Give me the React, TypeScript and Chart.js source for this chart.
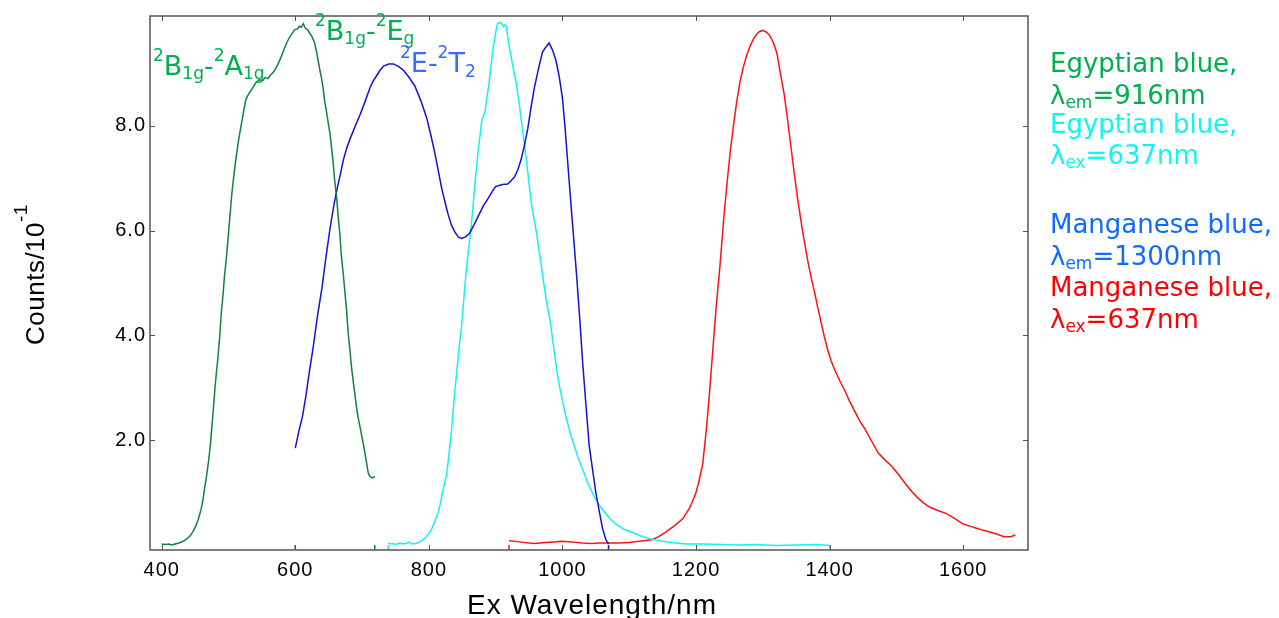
import React, { useEffect, useRef } from 'react';
import { Chart, registerables } from 'chart.js';

Chart.register(...registerables);

// ---------- axes ----------
const xMin = 382.5;
const xMax = 1697;
const yMin = -0.095;
const yMax = 10.095;
const xTickValues = [400, 600, 800, 1000, 1200, 1400, 1600];
const yTickValues = [2, 4, 6, 8];
const xAxisTitle = 'Ex Wavelength/nm';
const yAxisTitle = 'Counts/10';
const yAxisTitleSup = '-1';

// ---------- Egyptian blue, excitation (λem = 916 nm) : dark green ----------
const egyptianExX = [400, 405, 411, 415, 420, 426, 432, 438, 443, 447, 451, 455, 459, 462, 464, 467, 470, 473, 475, 478, 480, 482, 484, 487, 489, 492, 494, 497, 499, 502, 505, 508, 511, 515, 519, 523, 526, 529, 532, 536, 541, 546, 551, 555, 559, 563, 567, 571, 575, 579, 583, 587, 591, 595, 599, 603, 606, 609, 612, 615, 618, 621, 625, 629, 632, 634, 637, 639, 642, 644, 647, 649, 652, 654, 657, 659, 662, 664, 667, 669, 672, 674, 677, 679, 682, 684, 687, 689, 692, 694, 697, 700, 702, 704, 707, 709, 711, 713, 716, 719];
const egyptianExY = [0.02, 0.01, 0.02, 0.0, 0.02, 0.04, 0.07, 0.12, 0.18, 0.26, 0.36, 0.5, 0.68, 0.88, 1.06, 1.3, 1.58, 1.92, 2.24, 2.7, 3.03, 3.3, 3.55, 4.0, 4.4, 4.8, 5.13, 5.5, 5.78, 6.25, 6.7, 7.05, 7.36, 7.72, 8.01, 8.3, 8.5, 8.58, 8.64, 8.72, 8.82, 8.88, 8.86, 8.92, 8.9, 8.97, 9.02, 9.1, 9.2, 9.32, 9.45, 9.58, 9.68, 9.76, 9.83, 9.85, 9.9, 9.88, 9.95, 9.86, 9.84, 9.78, 9.7, 9.58, 9.4, 9.26, 9.05, 8.93, 8.7, 8.47, 8.25, 8.08, 7.85, 7.62, 7.25, 6.96, 6.62, 6.3, 5.9, 5.52, 5.15, 4.87, 4.45, 4.08, 3.7, 3.42, 3.1, 2.9, 2.6, 2.44, 2.25, 2.05, 1.92, 1.78, 1.55, 1.39, 1.32, 1.3, 1.28, 1.31];

// ---------- Egyptian blue, emission (λex = 637 nm) : cyan ----------
const egyptianEmX = [739, 742, 746, 750, 754, 757, 760, 765, 770, 775, 780, 785, 790, 795, 800, 804, 808, 811, 814, 817, 820, 822, 824, 826, 829, 832, 834, 837, 839, 841, 844, 846, 849, 852, 854, 856, 859, 862, 864, 867, 869, 871, 874, 877, 879, 882, 884, 887, 890, 893, 896, 899, 901, 903, 906, 908, 910, 912, 914, 916, 918, 921, 926, 931, 935, 938, 942, 946, 950, 953, 957, 961, 964, 968, 972, 976, 979, 981, 985, 988, 992, 996, 1001, 1006, 1012, 1018, 1024, 1031, 1038, 1046, 1054, 1063, 1071, 1080, 1092, 1105, 1120, 1134, 1150, 1170, 1185, 1210, 1240, 1261, 1290, 1320, 1350, 1380, 1400];
const egyptianEmY = [0.04, 0.02, 0.03, 0.01, 0.03, 0.04, 0.02, 0.03, 0.05, 0.02, 0.03, 0.05, 0.09, 0.14, 0.22, 0.3, 0.42, 0.53, 0.63, 0.78, 0.98, 1.09, 1.22, 1.29, 1.6, 1.95, 2.21, 2.65, 2.95, 3.2, 3.6, 3.85, 4.19, 4.65, 4.95, 5.24, 5.6, 5.9, 6.16, 6.6, 6.9, 7.15, 7.55, 7.85, 8.08, 8.2, 8.27, 8.55, 8.8, 9.15, 9.46, 9.7, 9.85, 9.95, 9.97, 9.97, 9.92, 9.89, 9.93, 9.9, 9.7, 9.46, 9.12, 8.8, 8.45, 8.14, 7.75, 7.35, 6.9, 6.56, 6.25, 5.97, 5.7, 5.37, 5.0, 4.65, 4.45, 4.32, 3.95, 3.66, 3.3, 3.0, 2.7, 2.41, 2.12, 1.88, 1.64, 1.42, 1.18, 0.96, 0.78, 0.63, 0.5, 0.4, 0.3, 0.24, 0.16, 0.11, 0.07, 0.04, 0.02, 0.02, 0.01, 0.0, 0.01, -0.01, 0.0, 0.01, -0.01];

// ---------- Manganese blue, excitation (λem = 1300 nm) : blue ----------
const manganeseExX = [600, 605, 611, 616, 621, 627, 633, 640, 646, 652, 658, 663, 668, 672, 677, 682, 690, 697, 705, 712, 717, 722, 727, 732, 740, 747, 755, 762, 770, 779, 788, 797, 803, 809, 814, 819, 824, 829, 834, 839, 844, 849, 855, 861, 868, 876, 882, 889, 895, 900, 910, 918, 923, 928, 933, 938, 943, 948, 953, 958, 964, 970, 975, 980, 985, 990, 995, 1000, 1004, 1008, 1014, 1021, 1026, 1030, 1035, 1040, 1045, 1050, 1055, 1060, 1065, 1069];
const manganeseExY = [1.85, 2.15, 2.47, 2.85, 3.3, 3.79, 4.35, 4.91, 5.5, 6.04, 6.5, 6.82, 7.1, 7.35, 7.57, 7.75, 8.0, 8.21, 8.48, 8.73, 8.86, 8.96, 9.06, 9.14, 9.18, 9.18, 9.13, 9.06, 8.93, 8.76, 8.48, 8.14, 7.82, 7.48, 7.15, 6.82, 6.55, 6.3, 6.1, 5.97, 5.88, 5.85, 5.88, 5.95, 6.12, 6.33, 6.48, 6.62, 6.75, 6.84, 6.88, 6.89, 6.95, 7.02, 7.15, 7.35, 7.62, 7.94, 8.35, 8.73, 9.08, 9.4, 9.5, 9.58, 9.45, 9.26, 8.95, 8.53, 7.95, 7.28, 6.3, 5.18, 4.3, 3.53, 2.7, 1.9, 1.45, 1.0, 0.65, 0.32, 0.1, 0.02];

// ---------- Manganese blue, emission (λex = 637 nm) : red ----------
const manganeseEmX = [920, 935, 957, 975, 987, 1000, 1013, 1030, 1043, 1055, 1068, 1085, 1099, 1115, 1134, 1144, 1154, 1167, 1180, 1190, 1195, 1200, 1205, 1210, 1215, 1220, 1225, 1230, 1236, 1241, 1246, 1251, 1256, 1261, 1266, 1271, 1276, 1281, 1286, 1291, 1295, 1300, 1305, 1310, 1316, 1321, 1326, 1332, 1337, 1342, 1347, 1352, 1359, 1367, 1372, 1377, 1382, 1387, 1392, 1397, 1402, 1408, 1415, 1423, 1430, 1438, 1445, 1453, 1463, 1473, 1484, 1494, 1504, 1514, 1523, 1532, 1540, 1549, 1562, 1575, 1588, 1600, 1610, 1620, 1630, 1640, 1650, 1661, 1671, 1678];
const manganeseEmY = [0.08, 0.06, 0.03, 0.05, 0.06, 0.07, 0.06, 0.04, 0.03, 0.04, 0.04, 0.04, 0.05, 0.07, 0.1, 0.16, 0.24, 0.36, 0.5, 0.7, 0.84, 1.0, 1.25, 1.55, 2.15, 2.88, 3.7, 4.52, 5.35, 6.16, 6.85, 7.48, 8.0, 8.47, 8.85, 9.13, 9.35, 9.52, 9.66, 9.75, 9.8, 9.82, 9.79, 9.73, 9.58, 9.39, 9.02, 8.6, 8.12, 7.61, 7.1, 6.62, 6.03, 5.44, 5.12, 4.85, 4.55, 4.26, 3.98, 3.73, 3.52, 3.33, 3.14, 2.94, 2.74, 2.54, 2.37, 2.21, 1.98, 1.75, 1.61, 1.49, 1.33, 1.16, 1.02, 0.9, 0.81, 0.73, 0.66, 0.6, 0.5, 0.4, 0.36, 0.32, 0.28, 0.25, 0.21, 0.16, 0.16, 0.19];

// ---------- short drop marks at the baseline (series end points) ----------
const markX = [600, 719, 739, 920, 1069, 1400];
const markSeries = ['mnEx', 'egEx', 'egEm', 'mnEm', 'mnEx', 'egEm'];

// ---------- legend / annotation texts ----------
const legendLines = [
  { key: 'egEx', runs: [{ t: 'Egyptian blue,' }] },
  { key: 'egEx', runs: [{ t: 'λ' }, { t: 'em', sub: true }, { t: '=916nm' }] },
  { key: 'egEm', runs: [{ t: 'Egyptian blue,' }] },
  { key: 'egEm', runs: [{ t: 'λ' }, { t: 'ex', sub: true }, { t: '=637nm' }] },
  { key: 'mnExText', runs: [{ t: 'Manganese blue,' }] },
  { key: 'mnExText', runs: [{ t: 'λ' }, { t: 'em', sub: true }, { t: '=1300nm' }] },
  { key: 'mnEm', runs: [{ t: 'Manganese blue,' }] },
  { key: 'mnEm', runs: [{ t: 'λ' }, { t: 'ex', sub: true }, { t: '=637nm' }] },
];
const legendBaselines = [72, 104, 133, 164, 233, 265, 296, 328];

const LINE_COLORS: Record<string, string> = {
  egEx: '#16803e',
  egEm: '#14f2f2',
  mnEx: '#1212dc',
  mnEm: '#ff1212',
};
const TEXT_COLORS: Record<string, string> = {
  egEx: '#00b050',
  egEm: '#10f4f4',
  mnExText: '#0f6bff',
  mnEm: '#ff0000',
  annBlue: '#3a6cff',
};
const AXIS_COLOR = '#555555';
const AXIS_FONT = '"Liberation Sans", Arial, sans-serif';
const TEXT_FONT = '"DejaVu Sans", Verdana, sans-serif';

type Run = { t: string; size: number; dy?: number };

function drawRuns(ctx: CanvasRenderingContext2D, x: number, y: number, runs: Run[], family: string) {
  let cx = x;
  for (const r of runs) {
    ctx.font = `${r.size}px ${family}`;
    ctx.fillText(r.t, cx, y + (r.dy || 0));
    cx += ctx.measureText(r.t).width;
  }
}

const SUP = (t: string): Run => ({ t, size: 17, dy: -14 });
const SUB = (t: string): Run => ({ t, size: 17, dy: 4 });
const BIG = (t: string): Run => ({ t, size: 27 });

const annotations = [
  { color: 'egEx', x: 153, y: 75, runs: [SUP('2'), BIG('B'), SUB('1g'), BIG('-'), SUP('2'), BIG('A'), SUB('1g')] },
  { color: 'egEx', x: 315, y: 40, runs: [SUP('2'), BIG('B'), SUB('1g'), BIG('-'), SUP('2'), BIG('E'), SUB('g')] },
  { color: 'annBlue', x: 400, y: 72, runs: [SUP('2'), BIG('E'), BIG('-'), SUP('2'), BIG('T'), { t: '2', size: 17, dy: 5 }] },
];

const decorPlugin = {
  id: 'decor',
  beforeDraw(chart: any) {
    (chart.ctx as any).letterSpacing = '1px';
  },
  afterDraw(chart: any) {
    const ctx: CanvasRenderingContext2D = chart.ctx;
    const a = chart.chartArea;
    const xs = chart.scales.x;
    const ys = chart.scales.y;
    ctx.save();
    // frame
    ctx.strokeStyle = AXIS_COLOR;
    ctx.lineWidth = 1.5;
    ctx.strokeRect(a.left, a.top, a.right - a.left, a.bottom - a.top);
    // inward ticks
    ctx.lineWidth = 1;
    ctx.beginPath();
    for (const v of xTickValues) {
      const px = Math.round(xs.getPixelForValue(v)) + 0.5;
      ctx.moveTo(px, a.bottom);
      ctx.lineTo(px, a.bottom - 5);
      ctx.moveTo(px, a.top);
      ctx.lineTo(px, a.top + 5);
    }
    for (const v of yTickValues) {
      const py = Math.round(ys.getPixelForValue(v)) + 0.5;
      ctx.moveTo(a.left, py);
      ctx.lineTo(a.left + 5, py);
      ctx.moveTo(a.right, py);
      ctx.lineTo(a.right - 5, py);
    }
    ctx.stroke();

    // axis titles
    ctx.fillStyle = '#000';
    ctx.textAlign = 'left';
    ctx.textBaseline = 'alphabetic';
    (ctx as any).letterSpacing = '1px';
    ctx.font = `28px ${AXIS_FONT}`;
    ctx.fillText(xAxisTitle, 467, 614);

    (ctx as any).letterSpacing = '0.5px';
    ctx.save();
    ctx.translate(44, 345);
    ctx.rotate(-Math.PI / 2);
    drawRuns(ctx, 0, 0, [{ t: yAxisTitle, size: 26 }, { t: yAxisTitleSup, size: 19, dy: -17 }], AXIS_FONT);
    ctx.restore();

    (ctx as any).letterSpacing = '0px';
    // legend texts
    legendLines.forEach((line, i) => {
      ctx.fillStyle = TEXT_COLORS[line.key];
      const runs: Run[] = line.runs.map((r: any) => (r.sub ? { t: r.t, size: 17, dy: 4 } : { t: r.t, size: 26 }));
      drawRuns(ctx, 1050, legendBaselines[i], runs, TEXT_FONT);
    });

    // transition annotations
    for (const an of annotations) {
      ctx.fillStyle = TEXT_COLORS[an.color];
      drawRuns(ctx, an.x, an.y, an.runs, TEXT_FONT);
    }
    ctx.restore();
  },
};

function series(xs: number[], ys: number[]) {
  return xs.map((x, i) => ({ x, y: ys[i] }));
}

export default function App() {
  const canvasRef = useRef<HTMLCanvasElement | null>(null);

  useEffect(() => {
    if (!canvasRef.current) return;
    const lineDs = (key: string, data: { x: number; y: number }[]) => ({
      data,
      borderColor: LINE_COLORS[key],
      backgroundColor: LINE_COLORS[key],
      borderWidth: 1.5,
      pointRadius: 0,
      fill: false,
      tension: 0,
    });
    const markDs = markX.map((x, i) => lineDs(markSeries[i], [{ x, y: 0 }, { x, y: yMin }]));

    const chart = new Chart(canvasRef.current, {
      type: 'line',
      data: {
        datasets: [
          lineDs('egEx', series(egyptianExX, egyptianExY)),
          lineDs('mnEx', series(manganeseExX, manganeseExY)),
          lineDs('egEm', series(egyptianEmX, egyptianEmY)),
          lineDs('mnEm', series(manganeseEmX, manganeseEmY)),
          ...markDs,
        ],
      },
      options: {
        animation: false,
        responsive: false,
        devicePixelRatio: 1,
        events: [],
        layout: { padding: { left: 0, top: 15, right: 251, bottom: 0 } },
        plugins: { legend: { display: false }, tooltip: { enabled: false } },
        scales: {
          x: {
            type: 'linear',
            min: xMin,
            max: xMax,
            grid: { display: false, drawTicks: false },
            border: { display: false },
            afterFit: (s: any) => { s.height = 68; },
            afterBuildTicks: (s: any) => { s.ticks = xTickValues.map((v) => ({ value: v })); },
            ticks: {
              padding: 8,
              color: '#000',
              font: { family: AXIS_FONT, size: 20 },
              maxRotation: 0,
              autoSkip: false,
              callback: (v: any) => String(v),
            },
          },
          y: {
            type: 'linear',
            min: yMin,
            max: yMax,
            grid: { display: false, drawTicks: false },
            border: { display: false },
            afterFit: (s: any) => { s.width = 150; },
            afterBuildTicks: (s: any) => { s.ticks = yTickValues.map((v) => ({ value: v })); },
            ticks: {
              padding: 4,
              color: '#000',
              font: { family: AXIS_FONT, size: 20 },
              autoSkip: false,
              callback: (v: any) => Number(v).toFixed(1),
            },
          },
        },
      },
      plugins: [decorPlugin],
    } as any);
    return () => chart.destroy();
  }, []);

  return (
    <div style={{ position: 'absolute', left: 0, top: 0, width: 1279, height: 618, background: '#fff' }}>
      <canvas ref={canvasRef} width={1279} height={618} style={{ display: 'block' }} />
    </div>
  );
}
